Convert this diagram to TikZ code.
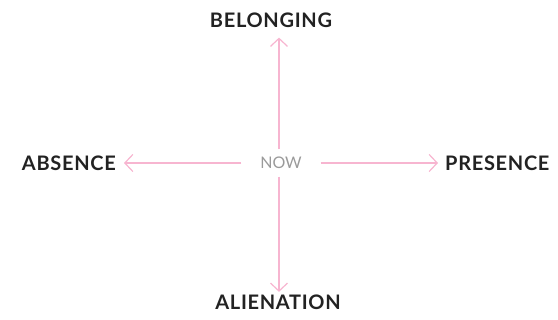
\documentclass[tikz,border=0pt]{standalone}
\usepackage{fontspec}
\setmainfont{Lato}
\newfontfamily\labelfont[LetterSpace=3.5]{Lato}
\usetikzlibrary{arrows.meta}
\definecolor{pinkline}{HTML}{F7B5D0}
\definecolor{labeltext}{HTML}{222222}
\definecolor{nowtext}{HTML}{9A9A9A}
\tikzset{
  axislabel/.style={inner sep=0pt, text=labeltext, font=\labelfont\fontsize{20}{24}\selectfont\bfseries},
  axisarrow/.style={draw=pinkline, line width=1.2pt, -{Straight Barb[length=8pt, width=17pt, line width=1.2pt]}},
}
\begin{document}
\begin{tikzpicture}[x=1pt, y=-1pt]
\useasboundingbox (0,0) rectangle (558,320);
\node[inner sep=0pt, minimum width=79pt, minimum height=27pt, text=nowtext, font=\fontsize{16}{19}\selectfont] (now) at (281,163) {NOW};
\node[axislabel] (top) at (271,20) {BELONGING};
\node[axislabel] (bottom) at (278,302) {ALIENATION};
\node[axislabel, anchor=east] (left) at (116,163) {ABSENCE};
\node[axislabel, anchor=west] (right) at (445,163) {PRESENCE};
\coordinate (vaxis) at (279,163);
\draw[axisarrow] (now.north -| vaxis) -- ([yshift=-10pt]top.south -| vaxis);
\draw[axisarrow] (now.south -| vaxis) -- ([yshift=2.5pt]bottom.north -| vaxis);
\draw[axisarrow] (now.west) -- ([xshift=8pt]left.east);
\draw[axisarrow] (now.east) -- ([xshift=-7pt]right.west);
\end{tikzpicture}
\end{document}
